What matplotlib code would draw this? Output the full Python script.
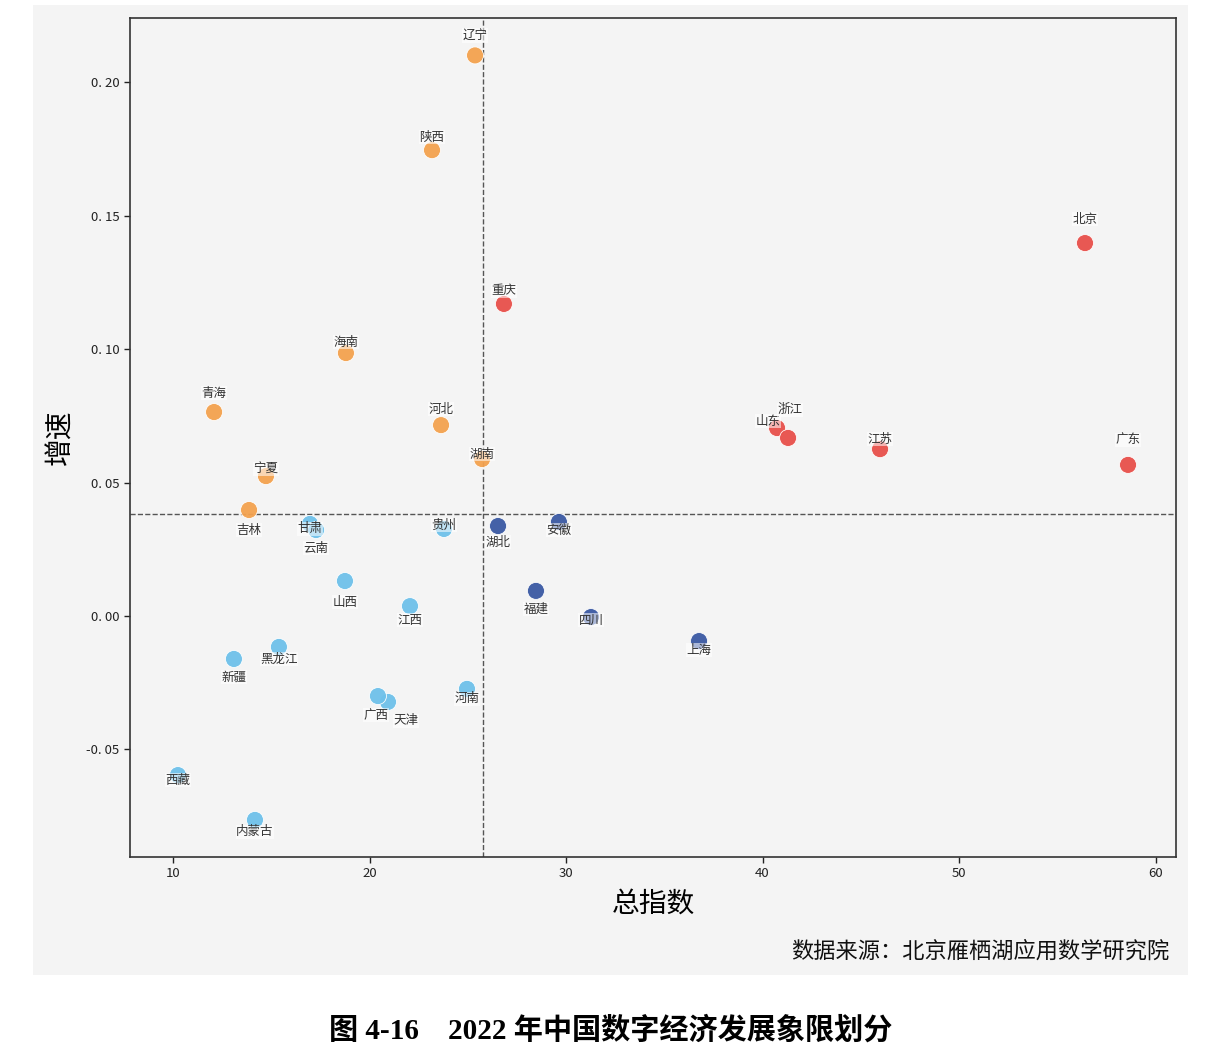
"""Quadrant scatter: 2022 digital economy index vs growth by province."""

import matplotlib

matplotlib.use("Agg")
import matplotlib.pyplot as plt
from matplotlib.patches import Rectangle

plt.rcParams["font.family"] = ["Noto Sans CJK SC", "DejaVu Sans"]
plt.rcParams["axes.unicode_minus"] = False

# data
provinces = [
    "辽宁", "陕西", "北京", "重庆", "海南", "青海", "河北", "山东", "浙江", "江苏",
    "广东", "湖南", "宁夏", "吉林", "甘肃", "云南", "贵州", "湖北", "安徽", "山西",
    "福建", "江西", "四川", "黑龙江", "上海", "新疆", "河南", "天津", "广西", "西藏",
    "内蒙古",
]
total_index = [
    25.37, 23.18, 56.41, 26.84, 18.80, 12.09, 23.64, 40.74, 41.30, 45.98,
    58.60, 25.73, 14.73, 13.87, 16.97, 17.28, 23.79, 26.54, 29.64, 18.75,
    28.47, 22.06, 31.27, 15.39, 36.77, 13.10, 24.96, 20.94, 20.43, 10.25,
    14.17,
]
growth = [
    0.2100, 0.1745, 0.1397, 0.1169, 0.0985, 0.0764, 0.0715, 0.0704, 0.0667, 0.0625,
    0.0566, 0.0588, 0.0524, 0.0397, 0.0345, 0.0322, 0.0326, 0.0337, 0.0352, 0.0131,
    0.0094, 0.0037, -0.0004, -0.0116, -0.0094, -0.0161, -0.0273, -0.0322, -0.0300, -0.0596,
    -0.0764,
]
mean_index = 25.78
mean_growth = 0.0382

# label offsets in pixels (dx, dy), positive dy = up
label_offsets = {
    "辽宁": (0, 20), "陕西": (0, 13), "北京": (0, 24), "重庆": (0, 13), "海南": (0, 11),
    "青海": (0, 19), "河北": (0, 16), "山东": (-9, 7), "浙江": (2, 28), "江苏": (0, 10),
    "广东": (0, 25), "湖南": (0, 5), "宁夏": (0, 7), "吉林": (0, -20), "甘肃": (0, -5),
    "云南": (0, -18), "贵州": (0, 4), "湖北": (0, -16), "安徽": (0, -8), "山西": (0, -21),
    "福建": (0, -18), "江西": (0, -14), "四川": (0, -3), "黑龙江": (0, -12), "上海": (0, -9),
    "新疆": (0, -18), "河南": (0, -10), "天津": (18, -19), "广西": (-2, -19), "西藏": (0, -5),
    "内蒙古": (0, -12),
}

colors = {
    "hh": "#e8504a",
    "lh": "#f3a24f",
    "hl": "#3a59a3",
    "ll": "#6ec1ea",
}


def quadrant(x, y):
    if y >= mean_growth:
        return "hh" if x >= mean_index else "lh"
    return "hl" if x >= mean_index else "ll"


fig = plt.figure(figsize=(12.17, 10.49), dpi=100)
fig.patches.append(Rectangle((0.0271, 0.0705), 0.9491, 0.9247, transform=fig.transFigure,
                             facecolor="#f4f4f4", edgecolor="none", zorder=-10))
ax = fig.add_axes([0.1068, 0.183, 0.8595, 0.7998])
ax.set_zorder(1)
ax.set_facecolor("#f4f4f4")

point_colors = [colors[quadrant(x, y)] for x, y in zip(total_index, growth)]
ax.scatter(total_index, growth, s=150, c=point_colors, edgecolors="white",
           linewidths=0.6, alpha=0.95, zorder=3)

px_to_pt = 0.72
for name, x, y in zip(provinces, total_index, growth):
    dx, dy = label_offsets[name]
    ax.annotate(name, (x, y), xytext=(dx * px_to_pt, dy * px_to_pt), textcoords="offset points",
                ha="center", va="center", fontsize=9, color="#333333", zorder=4,
                bbox=dict(boxstyle="square,pad=0.05", facecolor="white", edgecolor="none", alpha=0.55))

ax.axvline(mean_index, color="#555555", linestyle="--", linewidth=1, zorder=2)
ax.axhline(mean_growth, color="#555555", linestyle="--", linewidth=1, zorder=2)

ax.set_xlim(7.81, 61.04)
ax.set_ylim(-0.0903, 0.224)
ax.set_xticks([10, 20, 30, 40, 50, 60])
ax.set_yticks([-0.05, 0.0, 0.05, 0.10, 0.15, 0.20])
ax.set_yticklabels(["-0. 05", "0. 00", "0. 05", "0. 10", "0. 15", "0. 20"])
ax.tick_params(labelsize=9.5, colors="#222222", length=4, width=1)
for spine in ax.spines.values():
    spine.set_color("#333333")
    spine.set_linewidth(1.2)

ax.set_xlabel("总指数", fontsize=20, labelpad=6)
ax.set_ylabel("增速", fontsize=20, labelpad=8)

fig.text(0.961, 0.093, "数据来源：北京雁栖湖应用数学研究院", ha="right", va="center",
         fontsize=16, color="#111111")
fig.text(0.502, 0.018, "图 4-16　2022 年中国数字经济发展象限划分", ha="center", va="center",
         fontsize=21, fontweight="bold", family=["Liberation Serif", "Noto Sans CJK SC"])

fig.savefig("out.png", dpi=100)
plt.close(fig)
